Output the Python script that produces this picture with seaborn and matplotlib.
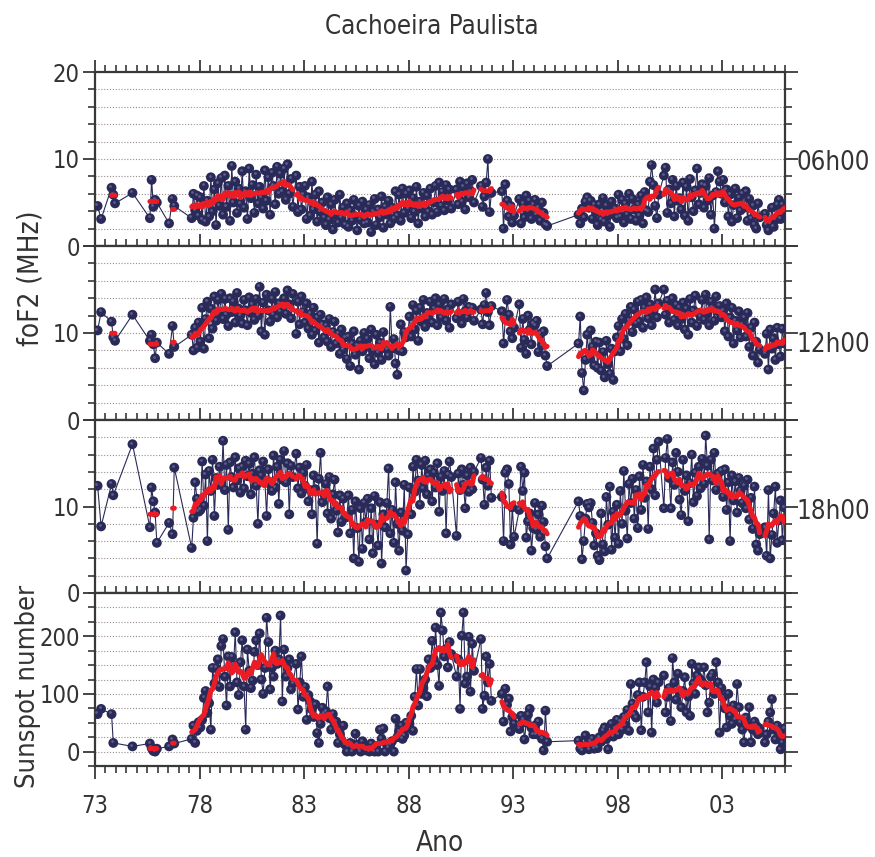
import numpy as np
import pandas as pd
import matplotlib
matplotlib.use("Agg")
import matplotlib.pyplot as plt
from matplotlib.ticker import FixedLocator, MultipleLocator
from matplotlib.transforms import offset_copy
import seaborn as sns

# ── Data: monthly values, Jan 1973 .. Dec 2005 (None = no measurement) ──
na = None
FIRST_YEAR, LAST_YEAR = 1973, 2005

fof2_06h = [
    na, 4.6, na, 3.1, na, na, na, na, na, 6.7, 5.9, 4.9,        # 1973
    na, na, na, na, na, na, na, na, na, 6.1, na, na,            # 1974
    na, na, na, na, na, na, na, 3.2, 7.6, 4.5, 5.3, 5.0,        # 1975
    na, na, na, na, na, na, 2.6, na, 5.4, 4.6, na, na,          # 1976
    na, na, na, na, na, na, na, 3.2, 6.0, 4.1, 5.8, 3.5,        # 1977
    5.6, 3.0, 6.9, 2.8, 5.2, 3.4, 7.9, 4.0, 6.5, 2.4, 7.2, 4.6,  # 1978
    7.8, 3.6, 8.1, 4.5, 6.9, 2.9, 9.2, 5.0, 7.4, 3.8, 6.6, 4.9,  # 1979
    8.6, 4.4, 6.3, 3.1, 8.9, 5.5, 7.0, 3.8, 8.2, 4.9, 6.8, 5.6,  # 1980
    4.3, 8.7, 5.2, 7.9, 3.6, 8.4, 6.9, 4.8, 9.1, 6.0, 8.3, 6.3,  # 1981
    8.9, 5.3, 9.4, 6.0, 7.7, 4.5, na, 8.1, 3.9, 6.8, 4.2, 5.9,   # 1982
    6.9, 3.1, 5.6, 3.5, 7.4, 4.2, 5.9, 2.8, 6.3, 3.9, 5.0, 3.3,  # 1983
    2.4, 5.6, 3.0, 4.8, 1.9, 5.3, 3.6, 2.7, 5.9, 3.2, 4.4, 2.5,  # 1984
    4.9, 2.2, 4.1, 2.9, 5.3, 3.4, 1.8, 4.6, 3.0, 5.1, 2.6, 4.2,  # 1985
    2.7, 4.7, 1.6, 3.9, 5.4, 2.4, 4.2, 3.3, 5.7, 2.1, 4.5, 3.6,  # 1986
    5.2, 2.6, 4.4, 3.1, 6.3, 3.5, 5.9, 2.9, 6.6, 3.8, 6.0, 4.3,  # 1987
    6.4, 3.2, 5.5, 3.9, 6.8, 2.6, 5.1, 4.3, 6.1, 3.4, 5.8, 4.0,  # 1988
    6.6, 3.6, 5.0, 6.9, 3.9, 7.3, 4.6, 6.2, 4.1, 7.0, 5.2, 6.5,  # 1989
    4.3, na, na, 6.5, 4.8, 7.4, 5.1, 6.8, 4.2, 7.2, 5.6, 6.3,    # 1990
    7.6, 5.0, na, na, na, 6.9, 4.5, 5.7, 7.3, 10.0, 3.9, 6.1,    # 1991
    na, na, na, na, na, 6.3, 2.0, 7.1, 5.2, 3.4, 4.6, 2.7,       # 1992
    3.5, na, na, 5.4, 2.6, 4.9, 3.3, 5.8, 4.0, 5.2, 3.1, 4.7,    # 1993
    5.3, 3.6, 4.4, 2.9, 5.0, 3.8, 2.5, 2.3, na, na, na, na,      # 1994
    na, na, na, na, na, na, na, na, na, na, na, na,              # 1995
    na, 3.6, 2.6, 4.3, 3.3, 5.1, 5.6, 4.4, 5.2, 3.1, 4.7, 3.9,   # 1996
    2.4, 4.8, 3.0, 5.5, 2.8, 4.6, 3.5, 2.2, 5.1, 3.9, 4.3, 3.2,  # 1997
    5.9, 3.4, 5.3, 2.7, 4.9, 3.6, 6.0, 3.1, 5.4, 4.2, 2.9, 4.8,  # 1998
    3.5, 5.8, 2.6, 6.2, 4.1, 3.9, 7.4, 9.3, 7.0, 4.6, 3.2, 5.9,  # 1999
    na, na, 8.1, 9.0, 3.8, 6.5, 4.9, 7.6, 3.4, 6.9, 5.2, 5.5,    # 2000
    4.2, 7.3, 3.5, 6.8, 2.9, 7.7, 5.6, 4.0, 6.4, 8.9, 4.8, 6.1,  # 2001
    7.1, 4.4, 6.9, 5.2, 7.8, 3.6, 5.8, 2.0, 6.2, 8.6, 7.4, 6.0,  # 2002
    7.6, 5.0, 6.5, 3.4, 5.9, 2.8, 4.7, 6.6, 3.2, 5.5, 4.1, 6.0,  # 2003
    4.4, 6.3, 2.9, 5.4, 3.1, 4.6, 2.4, 2.0, 4.9, 3.3, na, na,    # 2004
    3.7, 2.4, 1.8, 2.6, 4.4, 2.2, 3.0, 4.7, 5.3, 3.1, 4.8, 3.9,  # 2005
]

fof2_12h = [
    na, 10.3, na, 12.4, na, na, na, na, na, 11.3, 9.5, 9.1,            # 1973
    na, na, na, na, na, na, na, na, na, 12.1, na, na,                  # 1974
    na, na, na, na, na, na, na, 9.1, 9.8, 8.7, 7.1, 8.9,               # 1975
    na, na, na, na, na, na, 7.6, na, 10.8, 8.4, na, na,                # 1976
    na, na, na, na, na, na, na, 9.8, 8.0, 10.6, 8.3, 11.2,             # 1977
    9.0, 12.9, 8.2, 11.6, 13.6, 9.4, 12.8, 10.5, 14.2, 11.4, 13.8, 12.2,   # 1978
    14.5, 11.6, 13.9, 12.1, 10.8, 14.0, 12.4, 13.6, 11.2, 14.6, 12.8, 12.0,  # 1979
    11.1, 13.8, 12.6, 10.9, 14.1, 12.3, 13.2, 11.5, 13.9, 12.0, 15.3, 10.2,  # 1980
    13.5, 9.8, 14.4, 12.6, 11.3, 13.9, 12.1, 14.7, 11.8, 13.4, 12.5, 13.2,   # 1981
    14.0, 12.2, 14.9, 13.3, 11.7, 14.5, na, 9.9, 13.6, 11.0, 14.2, 12.4,     # 1982
    11.2, 13.4, 10.5, 12.2, 9.8, 12.9, 10.3, 11.8, 8.9, 12.1, 11.0, 9.5,     # 1983
    10.8, 9.0, 11.6, 8.4, 10.1, 11.3, 8.8, 9.9, 7.6, 10.4, 8.1, 9.5,         # 1984
    7.0, 9.6, 6.2, 8.8, 10.2, 7.5, 8.5, 5.8, 9.1, 7.9, 10.0, 8.4,            # 1985
    9.3, 7.1, 10.4, 8.0, 6.4, 9.8, 7.7, 8.9, 6.9, 10.1, 8.3, 8.1,            # 1986
    7.4, 13.0, 8.2, 9.3, 6.5, 5.2, 8.0, 11.0, 7.9, 10.1, 9.5, 9.8,           # 1987
    11.9, 9.6, 13.2, 10.4, 12.6, 9.1, 12.9, 11.3, 13.8, 10.7, 12.3, 11.6,    # 1988
    13.6, 11.2, 12.8, 14.0, 10.9, 13.3, 11.8, 12.5, 13.9, 11.4, 12.7, 10.6,  # 1989
    13.3, na, na, 11.7, 13.6, 12.0, 11.1, 13.9, 12.5, 11.8, 13.0, 12.6,      # 1990
    12.9, 11.4, na, na, na, 12.7, 11.0, 13.2, 14.6, 12.4, 10.9, 13.1,        # 1991
    na, na, na, na, na, 12.5, 8.8, 11.6, 13.8, 12.1, 10.2, 9.4,              # 1992
    10.6, na, na, 13.3, 8.3, 11.6, 9.2, 7.6, 12.0, 10.4, 8.7, 11.1,          # 1993
    10.9, 11.4, 7.8, 9.9, 8.6, 10.2, 7.4, 6.2, na, na, na, na,               # 1994
    na, na, na, na, na, na, na, na, na, na, na, na,                          # 1995
    na, 8.8, 11.9, 5.4, 3.4, 6.9, 9.8, 7.1, 10.3, 8.4, 6.3, 9.0,             # 1996
    6.0, 8.9, 5.7, 7.8, 4.9, 9.1, 6.4, 5.3, 8.2, 4.6, 7.9, 9.5,              # 1997
    10.8, 7.9, 11.6, 9.3, 12.2, 8.6, 11.4, 13.0, 10.1, 12.7, 11.1, 13.6,     # 1998
    11.3, 13.8, 10.6, 12.9, 14.1, 11.7, 13.3, 10.9, 12.6, 15.0, 11.8, 13.4,  # 1999
    na, na, 15.0, 12.1, 13.7, 11.2, 12.8, 14.0, 11.5, 13.2, 10.9, 12.9,      # 2000
    11.6, 13.5, 10.4, 12.8, 9.8, 13.9, 11.2, 12.6, 14.3, 10.8, 12.3, 11.9,   # 2001
    13.8, 11.5, 14.4, 12.2, 10.9, 13.6, 12.9, 11.4, 14.2, 12.5, 13.1, 11.8,  # 2002
    12.6, 10.2, 13.4, 9.6, 11.8, 12.9, 8.8, 11.4, 10.3, 12.5, 9.5, 11.0,     # 2003
    11.8, 9.6, 12.3, 8.4, 10.6, 7.4, 11.2, 9.0, 6.6, 8.1, na, na,            # 2004
    7.6, 9.9, 5.8, 10.4, 8.2, 9.4, 6.9, 10.6, 8.7, 7.3, 10.5, 8.8,           # 2005
]

fof2_18h = [
    na, 12.4, na, 7.7, na, na, na, na, na, 12.6, 11.3, na,             # 1973
    na, na, na, na, na, na, na, na, na, 17.2, na, na,                  # 1974
    na, na, na, na, na, na, na, 7.6, 12.2, 10.6, 9.3, 5.8,             # 1975
    na, na, na, na, na, na, 8.1, na, 6.8, 14.5, na, na,                # 1976
    na, na, na, na, na, na, na, 5.2, 8.7, 12.8, 10.9, 9.4,             # 1977
    9.6, 15.2, 10.1, 13.7, 6.0, 14.1, 11.8, 15.4, 8.9, 13.3, 12.5, 14.6,     # 1978
    12.6, 17.6, 11.9, 14.8, 7.3, 15.1, 13.4, 12.2, 15.7, 13.0, 14.4, 11.6,   # 1979
    14.6, 12.1, 15.3, 13.5, 14.9, 11.4, 13.8, 15.7, 12.4, 8.0, 14.2, 13.6,   # 1980
    15.2, 13.0, 8.9, 14.3, 12.6, 11.8, 15.9, 12.2, 14.6, 10.3, 15.4, 13.1,   # 1981
    16.4, 12.8, 15.0, 9.1, 14.7, 13.4, na, 16.1, 12.1, 14.5, 11.5, 13.9,     # 1982
    12.4, 14.8, 10.6, 11.9, 9.1, 13.6, 12.0, 5.7, 13.2, 16.2, 10.5, 11.4,    # 1983
    12.6, 9.2, 13.4, 8.6, 11.4, 13.1, 9.5, 7.0, 11.3, 8.2, 10.9, 8.7,        # 1984
    8.8, 11.3, 6.9, 9.6, 4.0, 10.6, 7.5, 3.6, 9.8, 5.1, 10.4, 8.2,           # 1985
    10.9, 6.2, 9.8, 4.6, 11.2, 7.9, 5.5, 10.5, 3.4, 9.1, 7.6, 10.4,          # 1986
    14.4, 6.9, 9.6, 5.8, 12.8, 8.0, 4.9, 9.3, 7.2, 12.5, 2.6, 6.8,           # 1987
    12.2, 9.1, 14.6, 11.7, 15.4, 13.0, 10.2, 14.8, 12.1, 15.3, 11.4, 13.6,   # 1988
    14.3, 10.6, 13.9, 12.2, 15.0, 9.4, 13.4, 11.8, 14.1, 6.9, 13.7, 15.2,    # 1989
    13.4, na, na, 6.6, 13.8, 11.9, 14.3, 12.5, 9.8, 13.6, 11.7, 14.5,        # 1990
    12.0, 14.0, na, na, na, 15.6, 13.1, 10.2, 14.5, 12.4, 15.3, 11.0,        # 1991
    na, na, na, na, na, 11.1, 6.0, 13.9, 14.3, 12.6, 5.6, 9.9,               # 1992
    6.5, na, na, 9.6, 14.6, 11.8, 13.9, 6.4, 8.3, 9.2, 4.9, 7.5,             # 1993
    10.4, 7.3, 9.1, 6.5, 10.1, 8.2, 5.4, 4.0, na, na, na, na,                # 1994
    na, na, na, na, na, na, na, na, na, na, na, na,                          # 1995
    na, 10.6, 8.9, 3.9, 6.0, 8.6, 10.3, 9.9, 10.4, 8.1, 5.5, 6.9,            # 1996
    4.3, 3.8, 9.2, 5.6, 4.8, 11.1, 7.9, 12.3, 5.0, 9.4, 6.4, 10.2,           # 1997
    5.7, 11.8, 8.0, 14.1, 9.5, 6.3, 12.6, 10.4, 13.2, 8.6, 11.9, 7.5,        # 1998
    13.5, 9.6, 14.8, 11.0, 12.9, 7.4, 14.6, 12.0, 16.7, 11.3, 15.4, 17.5,    # 1999
    na, na, 9.8, 15.6, 17.8, 13.3, 9.8, 15.1, 12.5, 16.2, 14.0, 10.8,        # 2000
    9.0, 15.4, 11.8, 13.6, 8.3, 12.7, 16.0, 10.5, 13.9, 11.2, 14.6, 12.1,    # 2001
    15.5, 12.6, 18.2, 14.7, 6.2, 15.4, 13.0, 16.2, 11.9, 13.8, 12.4, 14.1,   # 2002
    11.1, 14.3, 9.6, 12.8, 6.0, 13.6, 10.7, 12.9, 9.3, 13.3, 11.8, 10.4,     # 2003
    12.4, 9.8, 13.1, 8.5, 11.0, 7.4, 12.3, 5.6, 4.9, 6.8, na, na,            # 2004
    7.6, 4.3, 11.9, 4.0, 6.7, 9.2, 12.3, 5.8, 8.4, 10.7, 6.1, 9.9,           # 2005
]

sunspot = [
    na, 65, na, 74, na, na, na, na, na, 65, 15, na,            # 1973
    na, na, na, na, na, na, na, na, na, 9, na, na,             # 1974
    na, na, na, na, na, na, na, 14, 6, 1, 0, 5,                # 1975
    na, na, na, na, na, na, 9, na, 21, 14, na, na,             # 1976
    na, na, na, na, na, na, na, 22, 45, 15, 36, 51,            # 1977
    42, 55, 93, 105, 67, 84, 38, 145, 118, 145, 160, 112,      # 1978
    183, 195, 130, 80, 165, 113, 164, 150, 207, 120, 98, 155,  # 1979
    193, 113, 38, 177, 140, 110, 123, 173, 193, 150, 205, 125,  # 1980
    100, 145, 232, 190, 108, 145, 130, 175, 152, 160, 236, 87,  # 1981
    177, 130, 145, 160, 108, 118, na, 152, 73, 120, 165, 95,    # 1982
    112, 55, 98, 87, 73, 60, 82, 32, 15, 48, 76, 65,            # 1983
    70, 113, 58, 38, 65, 45, 52, 15, 30, 20, 45, 12,            # 1984
    0, 8, 15, 0, 5, 31, 12, 3, 0, 18, 8, 2,                     # 1985
    5, 0, 14, 3, 0, 10, 0, 38, 22, 40, 0, 12,                   # 1986
    6, 12, 18, 0, 57, 25, 35, 45, 22, 28, 50, 41,               # 1987
    48, 62, 36, 95, 143, 80, 143, 100, 110, 125, 96, 160,       # 1988
    145, 192, 160, 215, 150, 114, 241, 210, 165, 178, 146, 190,  # 1989
    169, na, na, 130, 160, 74, 201, 241, 118, 130, 199, 104,    # 1990
    187, 140, na, na, na, 195, 74, 97, 165, 120, 152, 88,       # 1991
    na, na, na, na, na, 100, 52, 109, 81, 92, 35, 60,           # 1992
    48, na, na, 39, 62, 55, 21, 50, 64, 74, 41, 30,             # 1993
    45, 30, 52, 28, 22, 2, 71, 17, na, na, na, na,              # 1994
    na, na, na, na, na, na, na, na, na, na, na, na,             # 1995
    na, 19, 5, 2, 8, 28, 12, 4, 18, 22, 5, 14,                  # 1996
    6, 25, 17, 36, 42, 22, 4, 30, 48, 26, 40, 55,               # 1997
    30, 52, 38, 60, 45, 72, 36, 117, 83, 64, 59, 98,            # 1998
    120, 37, 95, 120, 155, 68, 113, 33, 125, 110, 85, 120,      # 1999
    na, na, 132, 68, 95, 110, 53, 162, 120, 90, 135, 105,       # 2000
    77, 105, 129, 68, 95, 62, 152, 118, 100, 132, 146, 125,     # 2001
    120, 146, 115, 68, 85, 130, 135, 100, 155, 120, 33, 110,    # 2002
    94, 75, 42, 100, 62, 48, 80, 55, 117, 77, 50, 38,           # 2003
    16, 59, 45, 77, 16, 38, 52, 45, 30, 40, na, na,             # 2004
    16, 30, 52, 68, 91, 38, 21, 45, 30, 4, 16, 40,              # 2005
]

hour_labels = ["06h00", "12h00", "18h00"]
year_ticks = list(range(1973, 2004, 5))

# ── Style ───────────────────────────────────────────────────────────────
NAVY = "#2a2a58"
SHINE = "#5c5c8e"
RED = "#ec1c24"
AXIS = "#383838"
GRID = "#9a8c8c"

sns.set_theme(style="ticks")
plt.rcParams["font.family"] = ["DejaVu Sans"]
plt.rcParams["font.stretch"] = "condensed"
plt.rcParams["text.color"] = "#333333"

n_months = (LAST_YEAR - FIRST_YEAR + 1) * 12
t = FIRST_YEAR + (np.arange(n_months) + 0.5) / 12

W, H = 875, 857
fig = plt.figure(figsize=(W / 100, H / 100), dpi=100)
LEFT, RIGHT = 95, 785
tops = [72, 246, 420, 593]
heights = [174, 174, 173, 173]
axes = [fig.add_axes([LEFT / W, 1 - (tp + h) / H, (RIGHT - LEFT) / W, h / H])
        for tp, h in zip(tops, heights)]

series = [fof2_06h, fof2_12h, fof2_18h, sunspot]


def draw_series(ax, values):
    s = pd.Series(np.array(values, dtype=float), index=t)
    ok = s.dropna()
    sns.lineplot(x=ok.index, y=ok.values, ax=ax, color=NAVY, lw=0.8,
                 estimator=None, sort=False, zorder=2)
    sns.scatterplot(x=ok.index, y=ok.values, ax=ax, color=NAVY, s=50,
                    edgecolor="none", zorder=3)
    # faint highlight so the markers read as shaded balls
    shine = offset_copy(ax.transData, fig=ax.figure, x=-0.9, y=1.2, units="points")
    ax.scatter(ok.index, ok.values, s=4, color=SHINE, linewidths=0,
               transform=shine, zorder=3.5)
    smooth = s.rolling(9, center=True, min_periods=3).mean().where(s.notna())
    ax.plot(t, smooth.values, color=RED, lw=3.6, solid_capstyle="round", zorder=4)


for i, (ax, vals) in enumerate(zip(axes, series)):
    draw_series(ax, vals)
    ax.set_xlim(1973, 2006)
    ax.xaxis.set_major_locator(FixedLocator(year_ticks))
    ax.xaxis.set_minor_locator(MultipleLocator(0.5))
    if i < 3:
        ax.set_ylim(0, 20)
        ax.yaxis.set_major_locator(FixedLocator([0, 10, 20]))
        ax.yaxis.set_minor_locator(MultipleLocator(2))
        ax.set_yticklabels(["0", "10", "20" if i == 0 else ""])
        ax.text(1.016, [0.477, 0.431, 0.468][i], hour_labels[i], transform=ax.transAxes,
                ha="left", va="center", fontsize=18.5)
    else:
        ax.set_ylim(-25, 275)
        ax.yaxis.set_major_locator(FixedLocator([0, 100, 200]))
        ax.yaxis.set_minor_locator(MultipleLocator(25))
        ax.set_xticklabels([f"{y % 100:02d}" for y in year_ticks])
    ax.grid(axis="y", which="both", ls=(0, (1, 1.6)), color=GRID, lw=0.8)
    ax.set_xlabel("")
    ax.set_ylabel("")
    ax.tick_params(axis="both", which="both", direction="out", color=AXIS,
                   top=True, bottom=True, left=True, right=True,
                   labelbottom=(i == 3), labelsize=17, labelcolor="#333333")
    ax.tick_params(which="major", length=9, width=1.3)
    ax.tick_params(axis="y", which="major", pad=2)
    ax.tick_params(axis="x", which="major", pad=11)
    ax.tick_params(which="minor", length=5, width=1.2)
    for sp in ax.spines.values():
        sp.set_color(AXIS)
        sp.set_linewidth(1.6)
        sp.set_visible(True)

fig.text(432 / W, 1 - 27 / H, "Cachoeira Paulista", ha="center", va="center", fontsize=18.5)
fig.text(30 / W, 1 - 278 / H, "foF2 (MHz)", ha="center", va="center", rotation=90, fontsize=20)
fig.text(28 / W, 1 - 686 / H, "Sunspot number", ha="center", va="center", rotation=90, fontsize=19.5)
fig.text(440 / W, 1 - 843 / H, "Ano", ha="center", va="center", fontsize=20)

fig.savefig("out.png", dpi=100)
